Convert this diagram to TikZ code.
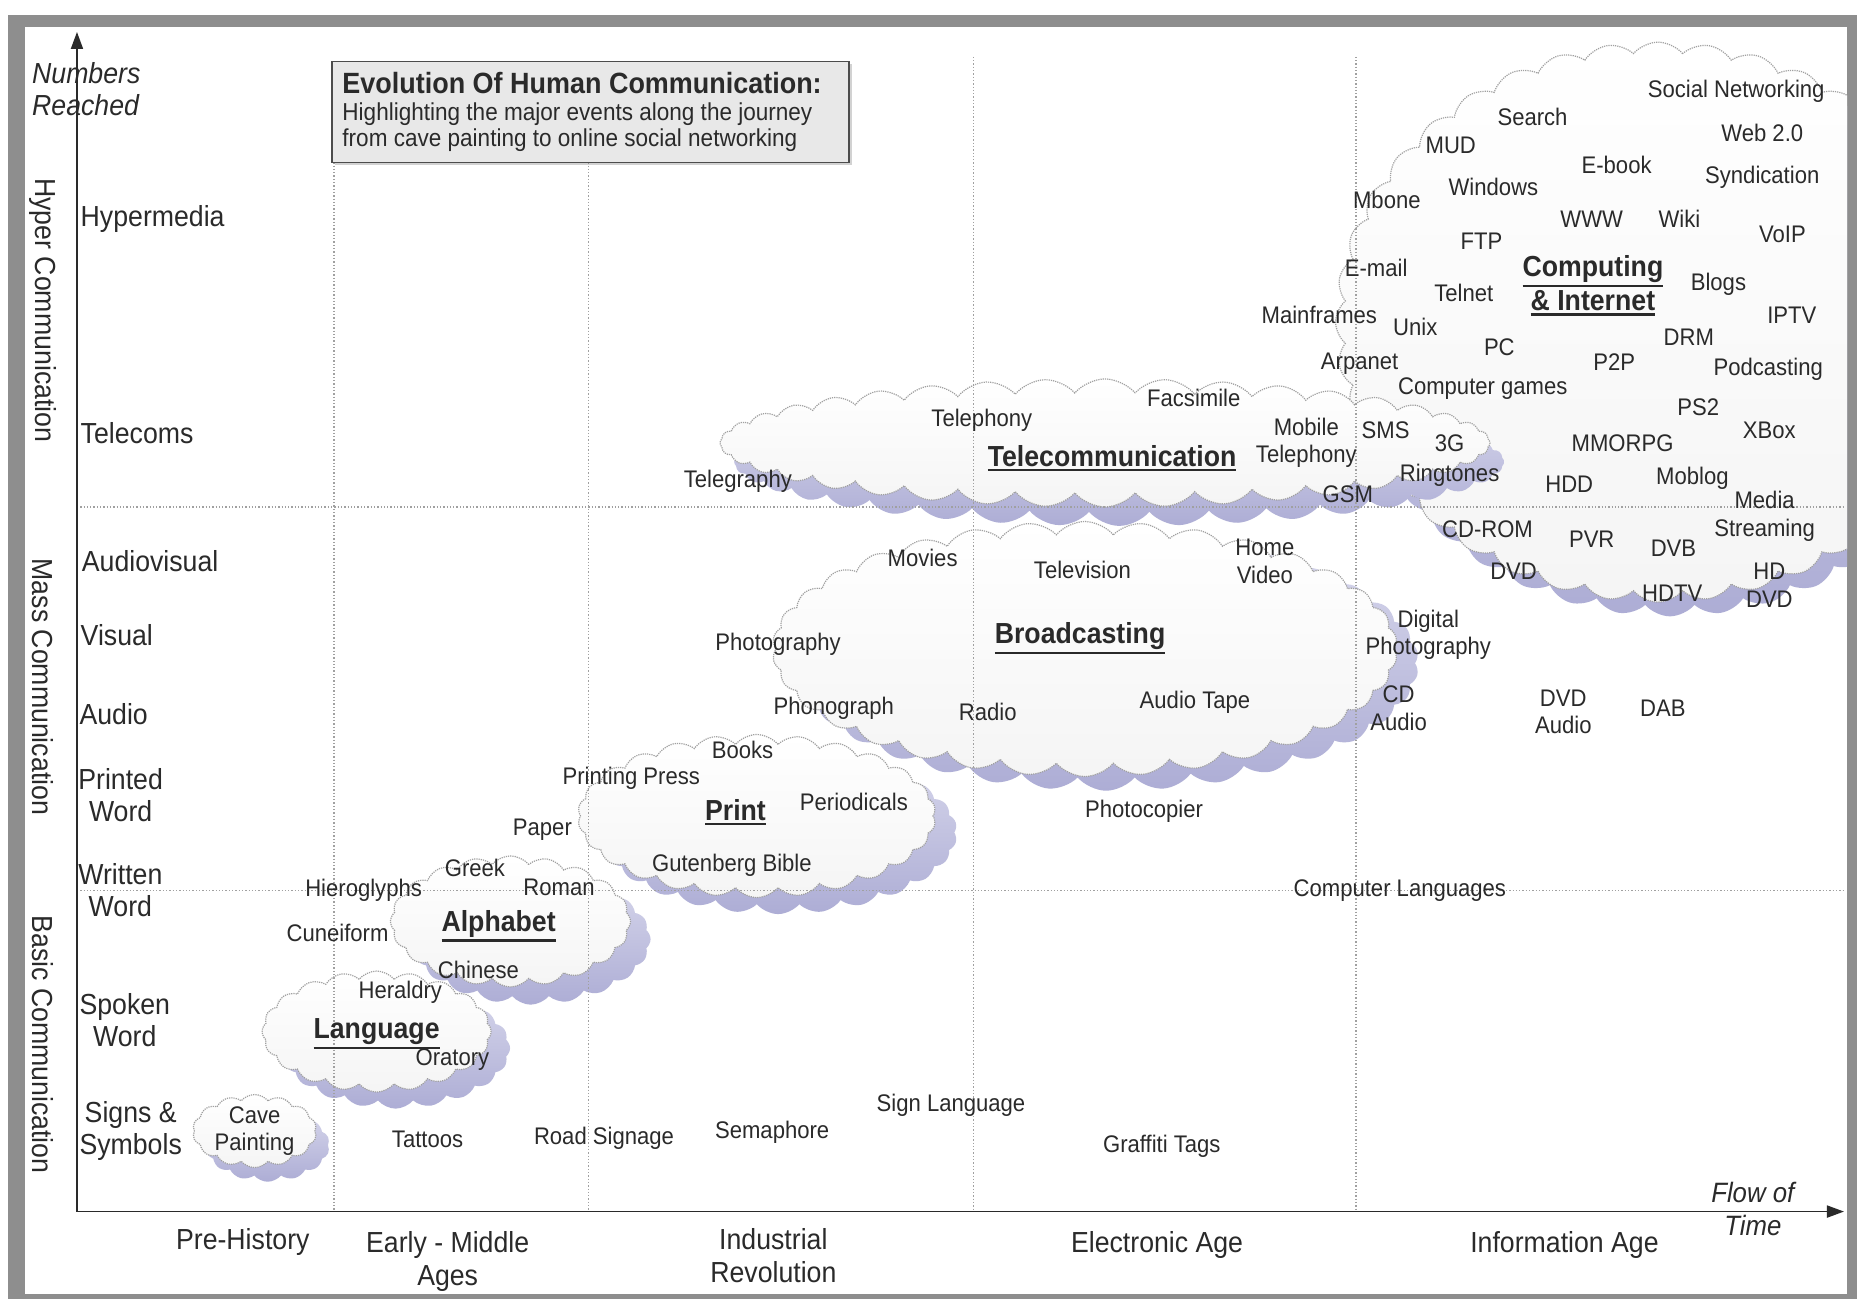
\documentclass[tikz,border=0pt]{standalone}
\usepackage{fontspec}
\setmainfont{Liberation Sans}[FakeStretch=0.92]
\usetikzlibrary{shapes.symbols,arrows.meta,shadows}
\definecolor{shad}{HTML}{ADADD5}
\definecolor{shadlt}{HTML}{D8D8EC}
\definecolor{gridc}{HTML}{A0A0A0}
\definecolor{framec}{HTML}{8E8E8E}
\definecolor{ink}{HTML}{2A2A2A}
\newcommand\thickul[1]{\leavevmode\setbox0=\hbox{#1}\vtop{\copy0\kern2pt\hrule height 2.4pt width \wd0}}
\begin{document}
\begin{tikzpicture}[x=1.1843pt,y=-1.1843pt,
 lbl/.style={font=\fontsize{24}{27.5}\selectfont, text=ink, align=center, inner sep=0pt},
 axl/.style={font=\fontsize{29}{32}\selectfont, text=ink, align=center, inner sep=0pt, anchor=west},
 bot/.style={font=\fontsize{29}{32.5}\selectfont, text=ink, align=center, inner sep=0pt},
 ttl/.style={font=\fontsize{29}{33}\selectfont\bfseries, text=ink, align=center, inner sep=0pt},
 side/.style={font=\fontsize{29}{32}\selectfont, text=ink, rotate=-90, inner sep=0pt},
 cloudbox/.style={cloud, cloud ignores aspect, cloud puff arc=100, draw=gridc, densely dotted, line width=1.2pt, top color=white, bottom color=black!4, inner sep=0pt},
 cloudshadow/.style={cloud, cloud ignores aspect, cloud puff arc=100, top color=shadlt, bottom color=shad, inner sep=0pt},
 gridline/.style={gridc, dotted, line width=1.3pt},
 axis/.style={ink, line width=1.8pt, -{Triangle[length=17pt,width=12pt]}},
]
\useasboundingbox (0,0) rectangle (1568,1097);
% frame
\fill[white] (0,0) rectangle (1568,1097);
\fill[framec] (6.75,12.7) rectangle (1568,1097);
\fill[white] (21.1,22.8) rectangle (1559.6,1092.6);

% clouds
\begin{scope}
\clip (21.1,22.8) rectangle (1559.6,1092.6);
\node[cloudshadow, cloud puffs=40, minimum width=645pt, minimum height=560pt] (compS) at (1410,284) {};
\node[cloudbox, cloud puffs=40, minimum width=645pt, minimum height=560pt] (compC) at (1400,272) {};
\end{scope}
\node[cloudshadow, cloud puffs=40, minimum width=770pt, minimum height=128pt] (telS) at (945,390) {};
\node[cloudbox, cloud puffs=40, minimum width=770pt, minimum height=128pt] (telC) at (933,374) {};
\node[cloudshadow, cloud puffs=34, minimum width=625pt, minimum height=255pt] (brS) at (934,560) {};
\node[cloudbox, cloud puffs=34, minimum width=625pt, minimum height=255pt] (brC) at (916,548) {};
\node[cloudshadow, cloud puffs=26, minimum width=358pt, minimum height=163pt] (prS) at (657,703) {};
\node[cloudbox, cloud puffs=26, minimum width=358pt, minimum height=163pt] (prC) at (639,689) {};
\node[cloudshadow, cloud puffs=20, minimum width=240pt, minimum height=131pt] (alS) at (448,793) {};
\node[cloudbox, cloud puffs=20, minimum width=240pt, minimum height=131pt] (alC) at (431,778) {};
\node[cloudshadow, cloud puffs=20, minimum width=229pt, minimum height=121pt] (laS) at (334,885) {};
\node[cloudbox, cloud puffs=20, minimum width=229pt, minimum height=121pt] (laC) at (318,871) {};
\node[cloudshadow, cloud puffs=14, minimum width=124pt, minimum height=73pt] (caS) at (226,967) {};
\node[cloudbox, cloud puffs=14, minimum width=124pt, minimum height=73pt] (caC) at (215,955) {};

% grid lines
\coordinate (v1t) at (282,137); \coordinate (v1b) at (282,1023);
\coordinate (v2t) at (497,137); \coordinate (v2b) at (497,1023);
\coordinate (v3t) at (822,48);  \coordinate (v3b) at (822,1023);
\coordinate (v4t) at (1145,48); \coordinate (v4b) at (1145,1023);
\coordinate (h1l) at (65,428);  \coordinate (h1r) at (1556,428);
\coordinate (h2l) at (65,752);  \coordinate (h2r) at (1556,752);
\draw[gridline] (v1t) -- (v1b);
\draw[gridline] (v2t) -- (v2b);
\draw[gridline] (v3t) -- (v3b);
\draw[gridline] (v4t) -- (v4b);
\draw[gridline] (h1l) -- (h1r);
\draw[gridline] (h2l) -- (h2r);

% axes
\coordinate (O) at (65,1023);
\coordinate (Ytip) at (65,27);
\coordinate (Xtip) at (1557,1023);
\draw[axis] (O) -- (Ytip);
\draw[axis] (O) -- (Xtip);

% title box
\node[draw=black!70, line width=1.5pt, fill=black!9, minimum width=517pt, minimum height=101pt, inner sep=0pt,
  drop shadow={shadow xshift=3pt, shadow yshift=-3pt, opacity=0.35}] (titlebox) at (498.5,94.5) {};
\node[font=\fontsize{29.3}{33}\selectfont\bfseries, text=ink, anchor=west, inner sep=0pt] (title) at (289,70) {Evolution Of Human Communication:};
\node[font=\fontsize{24.5}{28}\selectfont, text=ink, anchor=west, inner sep=0pt] (sub1) at (289,96) {Highlighting the major events along the journey};
\node[font=\fontsize{24.5}{28}\selectfont, text=ink, anchor=west, inner sep=0pt] (sub2) at (289,118) {from cave painting to online social networking};

% axis labels
\node[axl, align=left, font=\fontsize{29}{32}\selectfont\itshape] (numbers) at (27,75) {Numbers\\Reached};
\node[axl] (hypermedia) at (68,185) {Hypermedia};
\node[axl] (telecoms) at (68,366) {Telecoms};
\node[axl] (audiovisual) at (69,474) {Audiovisual};
\node[axl] (visual) at (68,536) {Visual};
\node[axl] (audio) at (67,603) {Audio};
\node[axl] (printed) at (66,671) {Printed\\Word};
\node[axl] (written) at (66,752) {Written\\Word};
\node[axl] (spoken) at (67,861) {Spoken\\Word};
\node[axl] (signs) at (67,955) {Signs \&\\Symbols};
\node[side] (hyper) at (36,262) {Hyper Communication};
\node[side] (mass) at (36,580) {Mass Communication};
\node[side] (basic) at (36,882) {Basic Communication};

% bottom labels
\node[bot] (prehist) at (205,1049) {Pre-History};
\node[bot] (early) at (378,1065) {Early - Middle\\Ages};
\node[bot] (indus) at (653,1060) {Industrial\\Revolution};
\node[bot] (elec) at (977,1051) {Electronic Age};
\node[bot] (info) at (1321,1051) {Information Age};
\node[bot, font=\fontsize{28}{32.5}\selectfont\itshape] (flow) at (1480,1021) {Flow of\\Time};

% cloud titles
\node[ttl] (compT1) at (1345,229) {\thickul{Computing}};
\node[ttl] (compT2) at (1345,256) {\thickul{\& Internet}};
\node[ttl] (telT) at (939,387) {\thickul{Telecommunication}};
\node[ttl] (brT) at (912,539) {\thickul{Broadcasting}};
\node[ttl] (prT) at (621,686) {\thickul{Print}};
\node[ttl] (alT) at (421,782) {\thickul{Alphabet}};
\node[ttl] (laT) at (318,873) {\thickul{Language}};

% computing & internet
\node[lbl] (socnet) at (1466,77) {Social Networking};
\node[lbl] (search) at (1294,99) {Search};
\node[lbl] (mud) at (1225,123) {MUD};
\node[lbl] (web2) at (1488,112) {Web 2.0};
\node[lbl] (ebook) at (1365,139) {E-book};
\node[lbl] (synd) at (1488,150) {Syndication};
\node[lbl] (windows) at (1261,158) {Windows};
\node[lbl] (mbone) at (1171,169) {Mbone};
\node[lbl] (www) at (1344,185) {WWW};
\node[lbl] (wiki) at (1418,185) {Wiki};
\node[lbl] (voip) at (1505,198) {VoIP};
\node[lbl] (ftp) at (1251,204) {FTP};
\node[lbl] (email) at (1162,226) {E-mail};
\node[lbl] (blogs) at (1451,240) {Blogs};
\node[lbl] (telnet) at (1236,247) {Telnet};
\node[lbl] (iptv) at (1513,266) {IPTV};
\node[lbl] (mainframes) at (1114,266) {Mainframes};
\node[lbl] (unix) at (1195,276) {Unix};
\node[lbl] (drm) at (1426,285) {DRM};
\node[lbl] (pc) at (1266,293) {PC};
\node[lbl] (arpanet) at (1148,307) {Arpanet};
\node[lbl] (p2p) at (1363,306) {P2P};
\node[lbl] (podcast) at (1493,312) {Podcasting};
\node[lbl] (cgames) at (1252,328) {Computer games};
\node[lbl] (ps2) at (1434,344) {PS2};
\node[lbl] (xbox) at (1494,363) {XBox};
\node[lbl] (mmorpg) at (1370,374) {MMORPG};
\node[lbl] (hdd) at (1325,409) {HDD};
\node[lbl] (moblog) at (1429,404) {Moblog};
\node[lbl] (media) at (1490,436) {Media\\Streaming};
\node[lbl] (cdrom) at (1256,447) {CD-ROM};
\node[lbl] (pvr) at (1344,455) {PVR};
\node[lbl] (dvb) at (1413,463) {DVB};
\node[lbl] (dvd) at (1278,482) {DVD};
\node[lbl] (hddvd) at (1494,494) {HD\\DVD};
\node[lbl] (hdtv) at (1412,501) {HDTV};

% telecommunication
\node[lbl] (facsimile) at (1008,336) {Facsimile};
\node[lbl] (telephony) at (829,355) {Telephony};
\node[lbl] (mobile) at (1103,374) {Mobile\\Telephony};
\node[lbl] (sms) at (1170,363) {SMS};
\node[lbl] (threeg) at (1224,374) {3G};
\node[lbl] (telegraphy) at (623,406) {Telegraphy};
\node[lbl] (ringtones) at (1224,401) {Ringtones};
\node[lbl] (gsm) at (1138,417) {GSM};

% broadcasting
\node[lbl] (homevideo) at (1068,474) {Home\\Video};
\node[lbl] (movies) at (779,471) {Movies};
\node[lbl] (television) at (914,481) {Television};
\node[lbl] (digphoto) at (1206,536) {Digital\\Photography};
\node[lbl] (photography) at (657,544) {Photography};
\node[lbl] (cdaudio) at (1181,598) {CD\\Audio};
\node[lbl] (dvdaudio) at (1320,601) {DVD\\Audio};
\node[lbl] (dab) at (1404,598) {DAB};
\node[lbl] (phonograph) at (704,598) {Phonograph};
\node[lbl] (radio) at (834,601) {Radio};
\node[lbl] (audiotape) at (1009,593) {Audio Tape};
\node[lbl] (photocopier) at (966,685) {Photocopier};

% print
\node[lbl] (books) at (627,633) {Books};
\node[lbl] (pressp) at (533,657) {Printing Press};
\node[lbl] (periodicals) at (721,677) {Periodicals};
\node[lbl] (paper) at (458,701) {Paper};
\node[lbl] (gutenberg) at (618,731) {Gutenberg Bible};
\node[lbl] (complang) at (1182,752) {Computer Languages};

% alphabet
\node[lbl] (greek) at (401,733) {Greek};
\node[lbl] (roman) at (472,749) {Roman};
\node[lbl] (hiero) at (307,752) {Hieroglyphs};
\node[lbl] (cuneiform) at (285,788) {Cuneiform};
\node[lbl] (chinese) at (404,819) {Chinese};

% language
\node[lbl] (heraldry) at (338,838) {Heraldry};
\node[lbl] (oratory) at (382,895) {Oratory};

% signs
\node[lbl] (cave) at (215,955) {Cave\\Painting};
\node[lbl] (tattoos) at (361,962) {Tattoos};
\node[lbl] (roadsign) at (510,961) {Road Signage};
\node[lbl] (semaphore) at (652,956) {Semaphore};
\node[lbl] (signlang) at (803,933) {Sign Language};
\node[lbl] (graffiti) at (981,968) {Graffiti Tags};
\end{tikzpicture}
\end{document}
